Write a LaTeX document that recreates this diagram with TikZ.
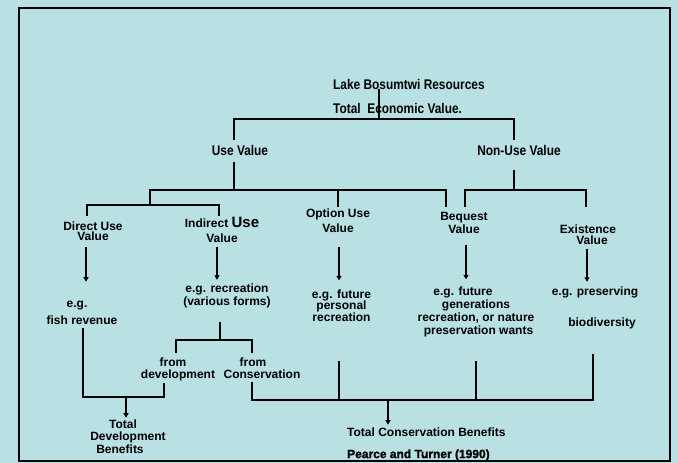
\documentclass[tikz,border=0pt]{standalone}
\usepackage{fontspec}
\setmainfont{Liberation Sans}
\newfontfamily\narrowfont[FakeStretch=0.85]{Liberation Sans}
\newfontfamily\heavyfont[FakeBold=1.5]{Liberation Sans}
\usepackage{tikz}
\usetikzlibrary{arrows.meta}
\definecolor{lakeblue}{RGB}{185,224,227}

\begin{document}
\begin{tikzpicture}[x=1pt,y=-1pt,
  heading/.style={font=\narrowfont\bfseries\fontsize{14}{16}\selectfont,inner sep=0pt},
  value/.style={font=\bfseries\fontsize{12}{13}\selectfont,inner sep=0pt,align=center},
  branch/.style={line width=1.8pt},
  flow/.style={branch,-{Triangle[width=5pt,length=4.5pt]}}]
    \useasboundingbox (0,0) rectangle (678,463);
    \fill[lakeblue] (0,0) rectangle (678,463);
    \draw[line width=1.6pt] (19,8) rectangle (670,461);

    \node (lake_resources) [heading,anchor=west] at (333,84) {Lake Bosumtwi Resources};
    \node (total_value) [heading,anchor=west] at (333,108) {Total\ \ Economic Value.};
    \node (use_value) [heading] at (240,150) {Use Value};
    \node (non_use_value) [heading] at (519,150) {Non-Use Value};

    \node (direct_use) [value] at (93,231.4) {Direct Use\\[-2.5pt]Value};
    \node (indirect_use) [value] at (222,229.5) {Indirect {\fontsize{15}{16}\selectfont Use}\\[2pt]Value};
    \node (option_use) [value] at (338,220.5) {Option Use\\[2pt]Value};
    \node (bequest_value) [value] at (464,222.5) {Bequest\\Value};
    \node (existence_value) [value] at (588,234.7) {Existence\\[-2.5pt]\hspace*{8pt}Value};

    \node (direct_example) [value] at (77,305.3) {e.g.};
    \node (fish_revenue) [value] at (82,320) {fish revenue};
    \node (indirect_example) [value] at (227,295.5) {e.g. recreation\\(various forms)};
    \node (option_example) [value] at (341.5,305.5) {e.g. future\\[-1.5pt]personal\\[-1.5pt]recreation};
    \node (bequest_example) [value] at (476,312) {e.g. future\hspace*{26pt}\\generations\hspace*{14pt}\\recreation, or nature\\\hspace*{5pt}preservation wants};
    \node (existence_example) [value] at (595,292) {e.g. preserving};
    \node (biodiversity) [value] at (602,323) {biodiversity};

    \node (from_development) [value] at (178,369.3) {from\hspace*{10pt}\\[-1pt]development};
    \node (from_conservation) [value] at (262,368) {from\hspace*{18pt}\\[-1pt]Conservation};
    \node (development_benefits) [value] at (128,436.5) {Total\hspace*{10pt}\\[-0.5pt]Development\\[-0.5pt]Benefits\hspace*{16pt}};
    \node (conservation_benefits) [value,anchor=west] at (347,432) {Total Conservation Benefits};
    \node (source) [font=\heavyfont\bfseries\fontsize{12}{13}\selectfont,inner sep=0pt,anchor=west] at (347,455) {Pearce and Turner (1990)};

    \coordinate (economic_fork) at (379,119);
    \coordinate (use_fork) at (234,190);
    \coordinate (non_use_fork) at (514,190);
    \coordinate (value_fork) at (150,205);
    \coordinate (recreation_fork) at (220,340);
    \coordinate (development_fork) at (126,397);
    \coordinate (conservation_fork) at (388,400);

    \draw[branch] (lake_resources.south -| economic_fork) -- (economic_fork);
    \draw[branch] ([xshift=-6pt,yshift=5pt]use_value.north) |- (economic_fork) -| ([xshift=-5pt,yshift=5pt]non_use_value.north);

    \draw[branch] ([xshift=-6pt,yshift=-7pt]use_value.south) -- (use_fork);
    \draw[branch] (value_fork) |- (use_fork) -| ([xshift=-18pt,yshift=4.7pt]bequest_value.north);
    \draw[branch] (use_fork -| option_use.north) -- ([yshift=1.5pt]option_use.north);
    \draw[branch] ([xshift=-6pt,yshift=5.7pt]direct_use.north) |- (value_fork) -| ([xshift=-3pt,yshift=0.5pt]indirect_use.north);

    \draw[branch] ([xshift=-5pt,yshift=-15pt]non_use_value.south) -- (non_use_fork);
    \draw[branch] ([xshift=1pt,yshift=4.7pt]bequest_value.north) |- (non_use_fork) -| ([xshift=-2pt,yshift=18pt]existence_value.north);

    \draw[flow] ([xshift=-7pt,yshift=-6pt]direct_use.south) -- ([xshift=9pt,yshift=18.9pt]direct_example.north);
    \draw[flow] ([xshift=-5pt,yshift=-4.5pt]indirect_use.south) -- ([xshift=-10pt,yshift=3.4pt]indirect_example.north);
    \draw[flow] ([xshift=1pt,yshift=-14pt]option_use.south) -- ([xshift=-2.5pt,yshift=9pt]option_example.north);
    \draw[flow] ([xshift=2pt,yshift=-11.5pt]bequest_value.south) -- ([xshift=-10pt,yshift=7.4pt]bequest_example.north);
    \draw[flow] ([xshift=-1pt,yshift=-4pt]existence_value.south) -- ([xshift=-8pt,yshift=4.4pt]existence_example.north);

    \draw[branch] ([xshift=-7pt,yshift=-14.5pt]indirect_example.south) -- (recreation_fork);
    \draw[branch] ([xshift=-2pt,yshift=4.7pt]from_development.north) |- (recreation_fork) -| ([xshift=-10pt,yshift=4.7pt]from_conservation.north);

    \draw[branch] ([xshift=1pt,yshift=-3.7pt]fish_revenue.south) |- (development_fork) -| ([xshift=-14pt,yshift=-2.2pt]from_development.south);
    \draw[flow] (development_fork) -- ([xshift=-2pt,yshift=1.7pt]development_benefits.north);

    \draw[branch] ([xshift=-10pt,yshift=-3.7pt]from_conservation.south) |- (conservation_fork) -| ([xshift=-9pt,yshift=-25pt]biodiversity.south);
    \draw[branch] ([xshift=-2.5pt,yshift=-39.7pt]option_example.south) |- (conservation_fork);
    \draw[branch] ([yshift=-24pt]bequest_example.south) |- (conservation_fork);
    \draw[flow] (conservation_fork) -- ([xshift=41pt,yshift=2.7pt]conservation_benefits.north west);
\end{tikzpicture}
\end{document}
